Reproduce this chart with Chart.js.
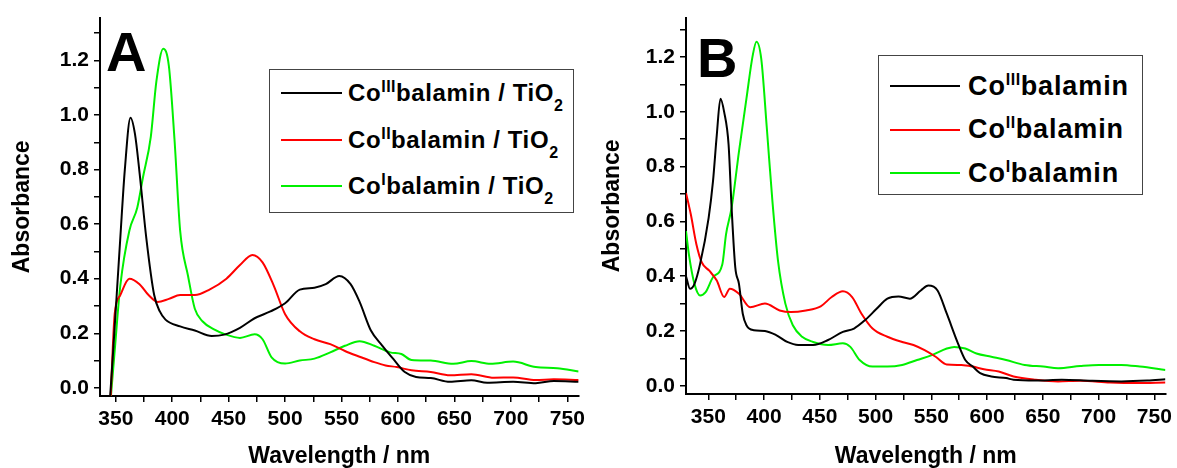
<!DOCTYPE html>
<html>
<head>
<meta charset="utf-8">
<script src="https://cdn.jsdelivr.net/npm/chart.js@4.4.1/dist/chart.umd.min.js"></script>
<style>
body { margin: 0; background: #fff; width: 1177px; height: 468px; position: relative; overflow: hidden; font-family: "Liberation Sans", Arial, sans-serif; }
.panel { position: absolute; top: 0; height: 468px; }
#boxA { left: 0; width: 590px; }
#boxB { left: 590px; width: 587px; }
.letter { position: absolute; font-weight: bold; font-size: 56px; line-height: 1; color: #000; }
.legend { position: absolute; border: 1px solid #444; background: #fff; box-sizing: border-box; }
.row { position: absolute; white-space: nowrap; font-weight: bold; color: #000; }
.swatch { position: absolute; height: 2px; }
.row sup, .row sub { line-height: 0; font-size: 16px; letter-spacing: 0.5px; }
</style>
</head>
<body>
<div class="panel" id="boxA"><canvas id="chartA" width="590" height="468"></canvas></div>
<div class="panel" id="boxB"><canvas id="chartB" width="587" height="468"></canvas></div>
<div class="letter" style="left:106px;top:24px;">A</div>
<div class="letter" style="left:697px;top:30px;">B</div>
<div class="legend" id="legendA" style="left:269px;top:69px;width:305px;height:144px;"></div>
<div class="legend" id="legendB" style="left:878px;top:55px;width:265px;height:140px;"></div>
<script>
// series colours (CoIII, CoII, CoI)
const colors = ['#000000', '#ff0000', '#00f000'];
const oxStates = ['III', 'II', 'I'];

// ---- panel A: cobalamin on TiO2 ----
const wlA_co3 = [345, 347.5, 354, 358, 363, 367, 371, 377, 384, 389, 394, 407, 420, 435, 446, 460, 473, 487, 500, 513, 526, 536, 548, 558, 566, 576, 586, 596, 606, 616, 629, 646, 665, 679, 702, 722, 738, 760];
const absA_co3 = [-0.03, 0.125, 0.55, 0.8, 0.99, 0.93, 0.79, 0.55, 0.34, 0.28, 0.25, 0.225, 0.21, 0.19, 0.195, 0.22, 0.255, 0.28, 0.31, 0.36, 0.367, 0.38, 0.41, 0.38, 0.315, 0.21, 0.155, 0.105, 0.058, 0.04, 0.036, 0.022, 0.028, 0.019, 0.022, 0.017, 0.025, 0.022];

const wlA_co2 = [345.5, 349, 354, 362, 371, 379, 387, 397, 407, 420, 433, 448, 460, 471, 480, 490, 500, 513, 526, 540, 553, 566, 579, 589, 599, 612, 629, 646, 665, 685, 702, 722, 738, 760];
const absA_co2 = [-0.03, 0.27, 0.34, 0.4, 0.38, 0.34, 0.315, 0.326, 0.34, 0.34, 0.36, 0.4, 0.45, 0.487, 0.46, 0.374, 0.27, 0.207, 0.178, 0.16, 0.135, 0.114, 0.094, 0.082, 0.076, 0.064, 0.058, 0.046, 0.05, 0.037, 0.038, 0.029, 0.031, 0.029];

const wlA_co1 = [345.7, 349, 354, 362, 369, 374, 381, 386, 392, 397, 402, 407, 414, 420, 427, 437, 447, 460, 473, 480, 488, 500, 513, 526, 540, 553, 566, 579, 593, 603, 612, 629, 649, 665, 682, 702, 722, 741, 760];
const absA_co1 = [-0.03, 0.135, 0.375, 0.576, 0.66, 0.77, 0.92, 1.125, 1.243, 1.18, 0.91, 0.576, 0.41, 0.29, 0.243, 0.214, 0.196, 0.183, 0.196, 0.178, 0.112, 0.089, 0.1, 0.107, 0.13, 0.154, 0.171, 0.154, 0.13, 0.124, 0.102, 0.1, 0.088, 0.098, 0.088, 0.096, 0.076, 0.072, 0.06];

// ---- panel B: cobalamin in solution ----
const wlB_co3 = [330, 333.6, 337.6, 342.6, 350.3, 354.2, 357.6, 360.9, 364.2, 368.2, 370.9, 374.2, 377.5, 380.9, 384.2, 390.8, 400.8, 410.8, 420.8, 430.7, 444, 457.4, 470.7, 480.7, 490.7, 500.7, 510.6, 520.6, 530.7, 540.6, 547.3, 555.6, 563.9, 573.9, 580.5, 587.2, 593.8, 603.8, 617.1, 623.8, 643.7, 667, 693.9, 720.4, 743.7, 760];
const absB_co3 = [0.4, 0.354, 0.372, 0.444, 0.613, 0.746, 0.915, 1.048, 1.0, 0.88, 0.65, 0.432, 0.372, 0.263, 0.221, 0.203, 0.2, 0.185, 0.16, 0.149, 0.149, 0.167, 0.197, 0.209, 0.24, 0.28, 0.318, 0.326, 0.318, 0.348, 0.366, 0.348, 0.263, 0.155, 0.094, 0.07, 0.046, 0.034, 0.028, 0.022, 0.019, 0.022, 0.018, 0.016, 0.019, 0.024];

const wlB_co2 = [330, 334.3, 339.3, 344.2, 350.9, 357.6, 364.2, 369.3, 377.5, 387.5, 400.8, 414, 424.2, 437.5, 450.8, 460.7, 470.7, 479, 487.4, 497.3, 510.6, 523.9, 534, 544, 553.9, 563.9, 577.1, 587.2, 597.2, 610.5, 623.8, 643.7, 663.7, 683.6, 710.4, 733.7, 760];
const absB_co2 = [0.704, 0.626, 0.517, 0.45, 0.42, 0.384, 0.324, 0.354, 0.336, 0.287, 0.3, 0.275, 0.269, 0.275, 0.29, 0.324, 0.345, 0.324, 0.263, 0.209, 0.179, 0.16, 0.149, 0.13, 0.106, 0.078, 0.076, 0.07, 0.06, 0.052, 0.034, 0.022, 0.016, 0.018, 0.012, 0.01, 0.012];

const wlB_co1 = [330, 332.6, 337.6, 342.6, 347.6, 354.2, 362.6, 365.9, 370.9, 377.5, 384.2, 389.8, 393.2, 397.5, 402.5, 407.5, 412.5, 419.1, 425.8, 434.1, 444, 457.4, 470.7, 477.4, 485.7, 497.3, 510.6, 523.9, 537.2, 550.5, 563.9, 570.5, 580.5, 590.5, 603.8, 617.1, 633.8, 650.4, 663.7, 683.6, 700.4, 720.4, 737, 760];
const absB_co1 = [0.565, 0.48, 0.372, 0.33, 0.342, 0.396, 0.444, 0.553, 0.65, 0.855, 1.048, 1.205, 1.256, 1.193, 0.94, 0.674, 0.457, 0.3, 0.221, 0.179, 0.16, 0.149, 0.155, 0.142, 0.094, 0.07, 0.07, 0.076, 0.094, 0.112, 0.136, 0.142, 0.136, 0.118, 0.106, 0.094, 0.076, 0.07, 0.064, 0.072, 0.076, 0.076, 0.07, 0.058];

const xTicksStep = 25;
const yTicksStep = 0.1;

function pts(xs, ys) {
  return xs.map((x, i) => ({ x: x, y: ys[i] }));
}

function makeDatasets(series, suffix) {
  return series.map((s, i) => ({
    label: 'Co' + oxStates[i] + 'balamin' + suffix,
    data: pts(s[0], s[1]),
    borderColor: colors[i],
    borderWidth: 2,
    pointRadius: 0,
    cubicInterpolationMode: 'monotone',
    fill: false
  }));
}

const tickFont = { family: 'Liberation Sans', weight: 'bold', size: 21 };
const titleFont = { family: 'Liberation Sans', weight: 'bold', size: 23, lineHeight: 1 };

function makeChart(id, datasets, xMin, yMax, area, size) {
  return new Chart(document.getElementById(id), {
    type: 'line',
    data: { datasets: datasets },
    options: {
      responsive: false,
      animation: false,
      devicePixelRatio: 1,
      layout: { padding: { top: area.top, right: size.w - area.right, left: 0, bottom: 0 } },
      plugins: { legend: { display: false }, tooltip: { enabled: false } },
      scales: {
        x: {
          type: 'linear',
          min: xMin,
          max: 760,
          afterFit: s => { s.height = size.h - area.bottom; },
          ticks: {
            stepSize: xTicksStep,
            includeBounds: false,
            autoSkip: false,
            maxRotation: 0,
            color: '#000',
            font: tickFont,
            padding: 5,
            callback: v => (v % 50 === 0 ? String(v) : '')
          },
          grid: { drawOnChartArea: false, drawTicks: true, tickLength: 6, color: '#000', lineWidth: 1.5 },
          border: { display: true, color: '#000', width: 2 },
          title: { display: true, text: 'Wavelength / nm', color: '#000', font: titleFont, padding: { top: 0, bottom: 0 } }
        },
        y: {
          min: -0.03,
          max: yMax,
          afterFit: s => { s.width = area.left; },
          ticks: {
            stepSize: yTicksStep,
            includeBounds: false,
            autoSkip: false,
            color: '#000',
            font: tickFont,
            padding: 5,
            callback: v => {
              const k = Math.round(v * 10);
              return k % 2 === 0 ? (k / 10).toFixed(1) : '';
            }
          },
          grid: { drawOnChartArea: false, drawTicks: true, tickLength: 6, color: '#000', lineWidth: 1.5 },
          border: { display: true, color: '#000', width: 2 },
          title: { display: true, text: 'Absorbance', color: '#000', font: titleFont, padding: { top: 11, bottom: 0 } }
        }
      }
    }
  });
}

const chartA = makeChart('chartA',
  makeDatasets([[wlA_co3, absA_co3], [wlA_co2, absA_co2], [wlA_co1, absA_co1]], ' / TiO2'),
  336, 1.357, { left: 100, right: 583, top: 8, bottom: 396 }, { w: 590, h: 468 });

const chartB = makeChart('chartB',
  makeDatasets([[wlB_co3, absB_co3], [wlB_co2, absB_co2], [wlB_co1, absB_co1]], ''),
  330, 1.344, { left: 96, right: 579, top: 15, bottom: 394 }, { w: 587, h: 468 });

// HTML legend built from the chart datasets (needs super/subscripts)
function buildLegend(chart, boxId, opts) {
  const box = document.getElementById(boxId);
  chart.data.datasets.forEach((ds, i) => {
    const cy = opts.firstY + i * opts.gap;
    const sw = document.createElement('div');
    sw.className = 'swatch';
    sw.style.left = opts.lineX0 + 'px';
    sw.style.width = (opts.lineX1 - opts.lineX0) + 'px';
    sw.style.top = (cy - 1) + 'px';
    sw.style.background = ds.borderColor;
    box.appendChild(sw);
    const row = document.createElement('div');
    row.className = 'row';
    row.style.left = opts.textX + 'px';
    row.style.top = (cy - opts.font / 2) + 'px';
    row.style.fontSize = opts.font + 'px';
    row.style.lineHeight = opts.font + 'px';
    row.style.letterSpacing = opts.spacing + 'px';
    row.innerHTML = 'Co<sup style="vertical-align:' + opts.supShift + 'px">' + oxStates[i] + '</sup>balamin' +
      (opts.tio2 ? ' / TiO<sub style="vertical-align:-10px">2</sub>' : '');
    box.appendChild(row);
  });
}

buildLegend(chartA, 'legendA', { firstY: 23, gap: 46.5, lineX0: 11, lineX1: 72, textX: 78, font: 24, spacing: 0.6, supShift: 9, tio2: true });
buildLegend(chartB, 'legendB', { firstY: 30, gap: 43.5, lineX0: 11, lineX1: 81, textX: 89, font: 27, spacing: 0.9, supShift: 10, tio2: false });
</script>
</body>
</html>
